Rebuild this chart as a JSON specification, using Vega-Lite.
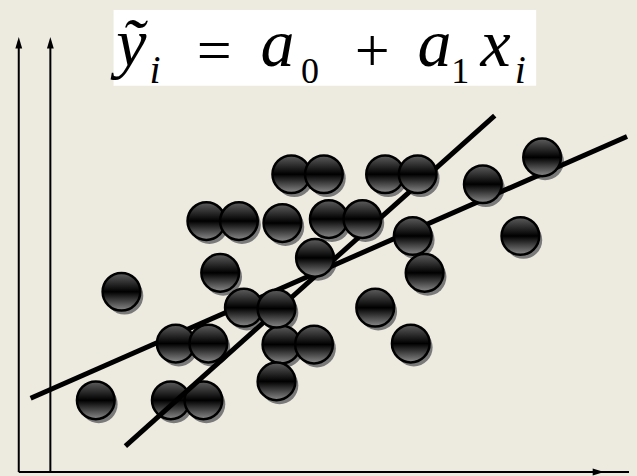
{
  "$schema": "https://vega.github.io/schema/vega-lite/v6.json",
  "width": 637,
  "height": 476,
  "autosize": {"type": "fit", "contains": "padding"},
  "padding": 0,
  "background": "#EDEAE0",
  "config": {"view": {"stroke": null}},
  "datasets": {
    "balls": [
      {"id": 1, "x": 9.7, "y": 7.4, "depth": "front"},
      {"id": 2, "x": 17.3, "y": 7.4, "depth": "back"},
      {"id": 3, "x": 20.6, "y": 7.4, "depth": "back"},
      {"id": 4, "x": 12.3, "y": 18.3, "depth": "front"},
      {"id": 5, "x": 17.8, "y": 13.1, "depth": "front"},
      {"id": 6, "x": 21.1, "y": 13.1, "depth": "front"},
      {"id": 7, "x": 20.9, "y": 25.4, "depth": "front"},
      {"id": 8, "x": 24.2, "y": 25.4, "depth": "front"},
      {"id": 9, "x": 22.3, "y": 20.2, "depth": "front"},
      {"id": 10, "x": 24.7, "y": 16.7, "depth": "front"},
      {"id": 11, "x": 28.5, "y": 13.0, "depth": "front"},
      {"id": 12, "x": 31.8, "y": 13.0, "depth": "front"},
      {"id": 13, "x": 28.0, "y": 16.6, "depth": "front"},
      {"id": 14, "x": 28.0, "y": 9.3, "depth": "front"},
      {"id": 15, "x": 28.6, "y": 25.2, "depth": "front"},
      {"id": 16, "x": 33.3, "y": 25.6, "depth": "front"},
      {"id": 17, "x": 36.7, "y": 25.6, "depth": "front"},
      {"id": 18, "x": 31.9, "y": 21.7, "depth": "front"},
      {"id": 19, "x": 29.5, "y": 30.1, "depth": "front"},
      {"id": 20, "x": 32.8, "y": 30.1, "depth": "front"},
      {"id": 21, "x": 39.0, "y": 30.1, "depth": "front"},
      {"id": 22, "x": 42.3, "y": 30.1, "depth": "front"},
      {"id": 23, "x": 43.0, "y": 20.2, "depth": "front"},
      {"id": 24, "x": 41.8, "y": 23.9, "depth": "front"},
      {"id": 25, "x": 38.0, "y": 16.7, "depth": "front"},
      {"id": 26, "x": 41.6, "y": 13.1, "depth": "front"},
      {"id": 27, "x": 48.9, "y": 29.1, "depth": "front"},
      {"id": 28, "x": 54.9, "y": 31.8, "depth": "front"},
      {"id": 29, "x": 52.7, "y": 23.9, "depth": "front"}
    ],
    "fits": [
      {"fit": "steep", "x": 12.7, "y": 2.8},
      {"fit": "steep", "x": 50.1, "y": 36.0},
      {"fit": "shallow", "x": 3.1, "y": 7.6},
      {"fit": "shallow", "x": 63.5, "y": 33.9}
    ],
    "axes": [
      {"axis": "y1", "x": 1.9, "y": 0.2},
      {"axis": "y1", "x": 1.9, "y": 43.4},
      {"axis": "y2", "x": 5.1, "y": 0.2},
      {"axis": "y2", "x": 5.1, "y": 43.4},
      {"axis": "x", "x": 1.9, "y": 0.2},
      {"axis": "x", "x": 63.7, "y": 0.2}
    ],
    "heads": [
      {"dir": "up", "x": 1.9, "y": 43.3},
      {"dir": "up", "x": 5.1, "y": 43.3},
      {"dir": "right", "x": 60.6, "y": 0.2}
    ],
    "box": [
      {"x": 11.5, "x2": 54.3, "y": 39.0, "y2": 46.6}
    ],
    "formula": [
      {"s": "ỹ", "x": 13.3, "y": 41.0, "role": "var"},
      {"s": "i", "x": 15.7, "y": 39.3, "role": "sub"},
      {"s": "=", "x": 21.7, "y": 40.5, "role": "op"},
      {"s": "a", "x": 28.1, "y": 41.0, "role": "var"},
      {"s": "0", "x": 31.4, "y": 39.3, "role": "num"},
      {"s": "+", "x": 37.7, "y": 40.5, "role": "op"},
      {"s": "a", "x": 44.0, "y": 41.0, "role": "var"},
      {"s": "1", "x": 46.6, "y": 39.3, "role": "num"},
      {"s": "x", "x": 50.2, "y": 41.0, "role": "var"},
      {"s": "i", "x": 52.7, "y": 39.3, "role": "sub"}
    ]
  },
  "encoding": {
    "x": {"field": "x", "type": "quantitative", "scale": {"domain": [0, 63.7], "nice": false, "zero": false}, "axis": null},
    "y": {"field": "y", "type": "quantitative", "scale": {"domain": [0, 47.6], "nice": false, "zero": false}, "axis": null}
  },
  "layer": [
    {
      "data": {"name": "box"},
      "mark": {"type": "rect", "color": "#FFFFFF"},
      "encoding": {
        "x2": {"field": "x2"},
        "y2": {"field": "y2"}
      }
    },
    {
      "data": {"name": "axes"},
      "mark": {"type": "line", "color": "#000000", "strokeWidth": 2},
      "encoding": {"detail": {"field": "axis"}}
    },
    {
      "data": {"name": "heads"},
      "transform": [{"filter": "datum.dir === 'up'"}],
      "mark": {"type": "point", "shape": "M0,-1L0.6,1L-0.6,1Z", "size": 130, "filled": true, "color": "#000000", "opacity": 1},
      "encoding": {}
    },
    {
      "data": {"name": "heads"},
      "transform": [{"filter": "datum.dir === 'right'"}],
      "mark": {"type": "point", "shape": "M1,0L-1,-0.6L-1,0.6Z", "size": 130, "filled": true, "color": "#000000", "opacity": 1},
      "encoding": {}
    },
    {
      "data": {"name": "balls"},
      "mark": {"type": "point", "shape": "circle", "size": 1420, "filled": true, "color": "#7A7A7A", "opacity": 1, "xOffset": 3, "yOffset": 4},
      "encoding": {"order": {"field": "id"}}
    },
    {
      "data": {"name": "balls"},
      "transform": [{"filter": "datum.depth === 'back'"}],
      "mark": {
        "type": "point", "shape": "circle", "size": 1420, "filled": true, "opacity": 1,
        "fill": {"gradient": "linear", "x1": 0, "y1": 0, "x2": 0, "y2": 1,
          "stops": [{"offset": 0, "color": "#5E5E5E"}, {"offset": 0.5, "color": "#000000"}, {"offset": 1, "color": "#8A8A8A"}]},
        "stroke": "#000000", "strokeWidth": 2.5
      },
      "encoding": {"order": {"field": "id"}}
    },
    {
      "data": {"name": "fits"},
      "mark": {"type": "line", "color": "#000000", "strokeWidth": 5, "strokeCap": "butt"},
      "encoding": {"detail": {"field": "fit"}}
    },
    {
      "data": {"name": "balls"},
      "transform": [{"filter": "datum.depth === 'front'"}],
      "mark": {
        "type": "point", "shape": "circle", "size": 1420, "filled": true, "opacity": 1,
        "fill": {"gradient": "linear", "x1": 0, "y1": 0, "x2": 0, "y2": 1,
          "stops": [{"offset": 0, "color": "#5E5E5E"}, {"offset": 0.5, "color": "#000000"}, {"offset": 1, "color": "#8A8A8A"}]},
        "stroke": "#000000", "strokeWidth": 2.5
      },
      "encoding": {"order": {"field": "id"}}
    },
    {
      "data": {"name": "formula"},
      "transform": [{"filter": "datum.role === 'var'"}],
      "mark": {"type": "text", "font": "Liberation Serif", "fontStyle": "italic", "fontSize": 68, "align": "center", "baseline": "alphabetic", "color": "#000000"},
      "encoding": {"text": {"field": "s"}}
    },
    {
      "data": {"name": "formula"},
      "transform": [{"filter": "datum.role === 'sub'"}],
      "mark": {"type": "text", "font": "Liberation Serif", "fontStyle": "italic", "fontSize": 40, "align": "center", "baseline": "alphabetic", "color": "#000000"},
      "encoding": {"text": {"field": "s"}}
    },
    {
      "data": {"name": "formula"},
      "transform": [{"filter": "datum.role === 'op'"}],
      "mark": {"type": "text", "font": "Liberation Serif", "fontSize": 62, "align": "center", "baseline": "alphabetic", "color": "#000000"},
      "encoding": {"text": {"field": "s"}}
    },
    {
      "data": {"name": "formula"},
      "transform": [{"filter": "datum.role === 'num'"}],
      "mark": {"type": "text", "font": "Liberation Serif", "fontSize": 36, "align": "center", "baseline": "alphabetic", "color": "#000000"},
      "encoding": {"text": {"field": "s"}}
    }
  ]
}
